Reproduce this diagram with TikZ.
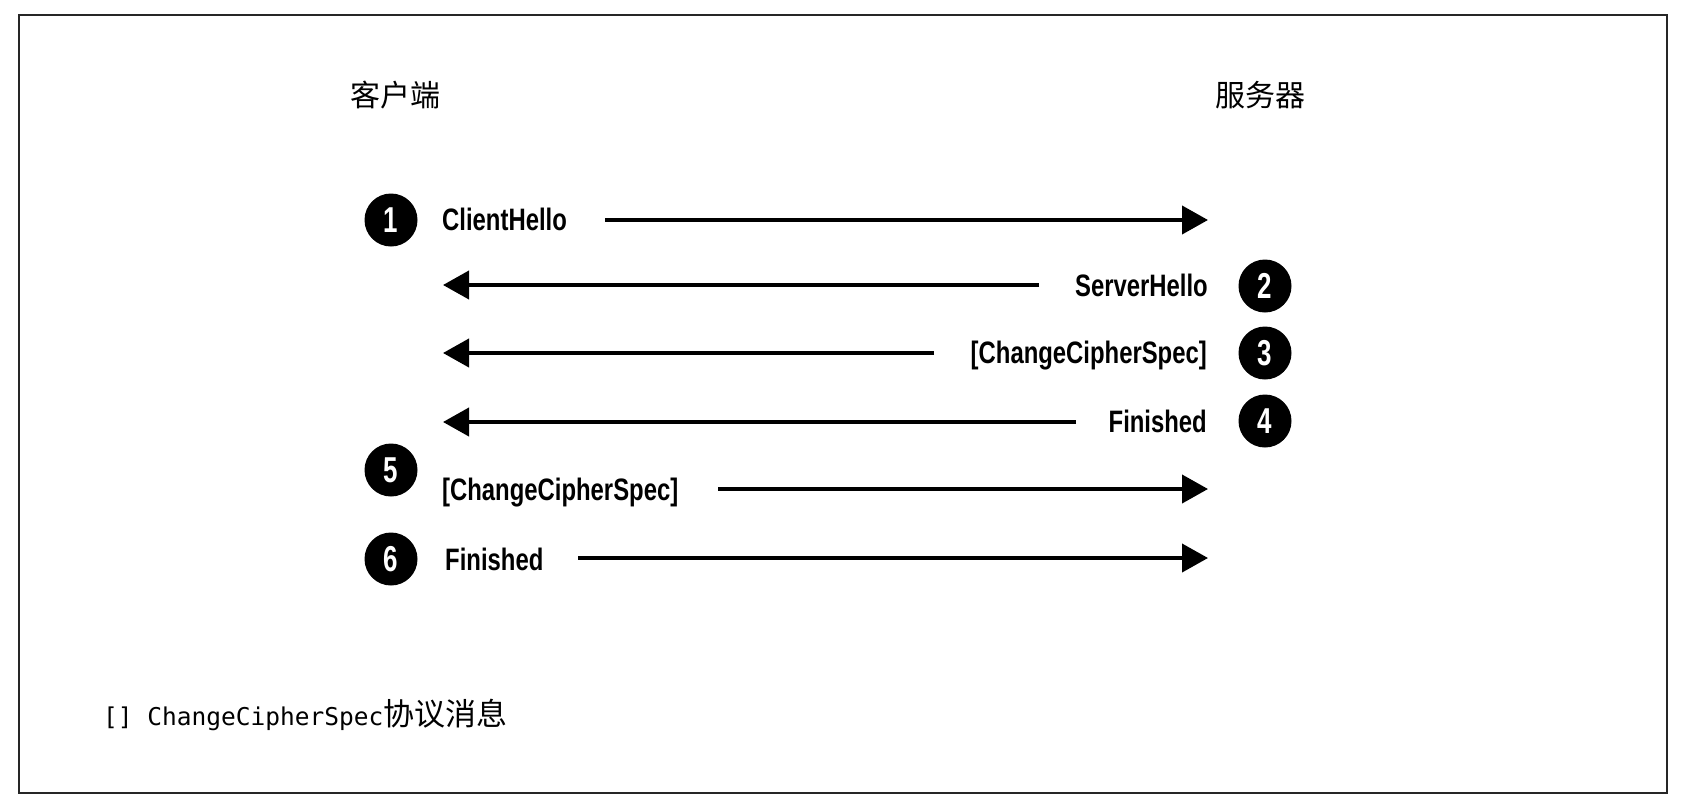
\documentclass[tikz,border=0pt]{standalone}
\usepackage{fontspec}
\usetikzlibrary{arrows.meta,calc}
\setmainfont{Liberation Sans}
\newfontfamily\condb[FakeStretch=0.77]{Liberation Sans}
\newfontfamily\condn[FakeStretch=0.72]{Liberation Sans}
\newfontfamily\cjk{Noto Sans CJK SC}
\newfontfamily\monof{DejaVu Sans Mono}
\begin{document}
\begin{tikzpicture}[x=1pt,y=-1pt,
  msg/.style={font=\condb\bfseries\fontsize{31}{32}\selectfont, inner sep=0pt},
  num/.style={circle, fill=black, minimum size=53pt, inner sep=0pt, text=white,
              font=\condn\bfseries\fontsize{36}{37}\selectfont},
  arr/.style={line width=4pt, -{Triangle[length=26pt,width=28pt]}},
  head/.style={font=\cjk\fontsize{30}{32}\selectfont, inner sep=0pt},
  note/.style={font=\monof\fontsize{24.5}{26}\selectfont, inner sep=0pt}]
\fill[white] (0,0) rectangle (1688,806);
\useasboundingbox (0,0) rectangle (1688,806);
\draw[line width=2.5pt, draw=black!85] (19,15) rectangle (1667,793);

% headers
\node[head] (client) at (395,95) {客户端};
\node[head] (server) at (1260,95) {服务器};

% numbers
\node[num] (n1) at (391,220) {1};
\node[num] (n2) at (1265,286) {2};
\node[num] (n3) at (1265,353) {3};
\node[num] (n4) at (1265,421) {4};
\node[num] (n5) at (391,470) {5};
\node[num] (n6) at (391,559) {6};

% labels
\node[msg, anchor=base west] (t1) at (442,230) {ClientHello};
\node[msg, anchor=base east] (t2) at (1208,296) {ServerHello};
\node[msg, anchor=base east] (t3) at (1207,363) {[ChangeCipherSpec]};
\node[msg, anchor=base east] (t4) at (1207,432) {Finished};
\node[msg, anchor=base west] (t5) at (442,500) {[ChangeCipherSpec]};
\node[msg, anchor=base west] (t6) at (445,570) {Finished};

% arrow ends
\coordinate (a1s) at (605,220);  \coordinate (a1e) at (1208,220);
\coordinate (a2s) at (1039,285); \coordinate (a2e) at (443,285);
\coordinate (a3s) at (934,353);  \coordinate (a3e) at (443,353);
\coordinate (a4s) at (1076,422); \coordinate (a4e) at (443,422);
\coordinate (a5s) at (718,489);  \coordinate (a5e) at (1208,489);
\coordinate (a6s) at (578,558);  \coordinate (a6e) at (1208,558);

\draw[arr] (a1s) -- (a1e);
\draw[arr] (a2s) -- (a2e);
\draw[arr] (a3s) -- (a3e);
\draw[arr] (a4s) -- (a4e);
\draw[arr] (a5s) -- (a5e);
\draw[arr] (a6s) -- (a6e);

% footnote
\node[note, anchor=base west] (fn) at (103,725) {[] ChangeCipherSpec{\cjk\fontsize{31}{32}\selectfont 协议消息}};
\end{tikzpicture}
\end{document}
